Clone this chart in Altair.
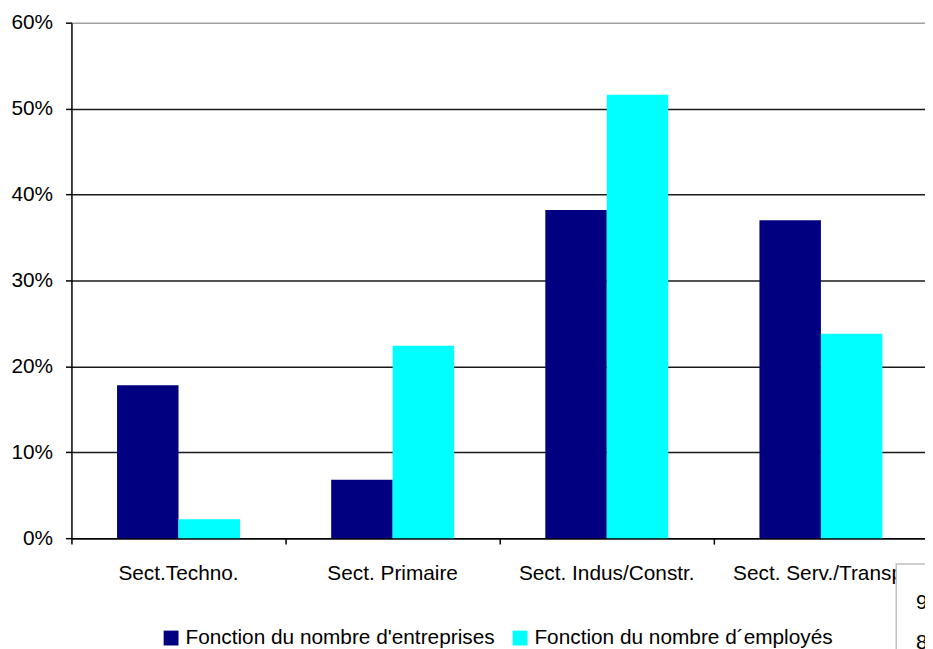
import altair as alt
import pandas as pd

categories = ["Sect.Techno.", "Sect. Primaire", "Sect. Indus/Constr.", "Sect. Serv./Transp."]
series = ["Fonction du nombre d'entreprises", "Fonction du nombre d\u00b4employ\u00e9s"]
entreprises = [0.178, 0.068, 0.382, 0.370]
employes = [0.022, 0.224, 0.516, 0.238]
colors = ["#000080", "#00FFFF"]
y_ticks = [0, 0.1, 0.2, 0.3, 0.4, 0.5, 0.6]
box_labels = ["9", "8"]

rows = []
for c, a, b in zip(categories, entreprises, employes):
    rows.append({"cat": c, "serie": series[0], "val": a})
    rows.append({"cat": c, "serie": series[1], "val": b})
df = pd.DataFrame(rows)

FONT = "Liberation Sans"

bars = alt.Chart(df).mark_bar().encode(
    x=alt.X(
        "cat:N", sort=categories, title=None,
        scale=alt.Scale(range=[0, 864], paddingInner=0, paddingOuter=0),
        axis=alt.Axis(
            bandPosition=0, labelAngle=0, tickSize=6,
            labelPadding=19, domainColor="black", tickColor="black",
            domainWidth=1.5, tickWidth=1.5, labelFontSize=21, labelFont=FONT,
            labelColor="black", grid=False, labelOverlap=False, labelLimit=400,
        ),
    ),
    xOffset=alt.XOffset(
        "serie:N", sort=series,
        scale=alt.Scale(paddingOuter=0.742, paddingInner=0),
    ),
    y=alt.Y(
        "val:Q", title=None,
        scale=alt.Scale(domain=[0, 0.6]),
        axis=alt.Axis(
            format=".0%", values=y_ticks, grid=True,
            gridColor={"condition": {"test": "datum.value >= 0.59", "value": "#a0a0a0"},
                       "value": "#1a1a1a"},
            gridWidth=1.5, tickSize=6, labelPadding=13, domainColor="black",
            tickColor="black", domainWidth=1.5, tickWidth=1.5,
            labelFontSize=21, labelFont=FONT, labelColor="black",
        ),
    ),
    color=alt.Color(
        "serie:N", sort=series,
        scale=alt.Scale(domain=series, range=colors),
        legend=alt.Legend(
            orient="none", legendX=90, legendY=610, direction="horizontal",
            title=None, symbolType="square", symbolSize=225, symbolStrokeWidth=0,
            labelFontSize=21, labelFont=FONT, labelColor="black",
            labelOffset=4, columnPadding=14, padding=0, labelLimit=500,
        ),
    ),
)

box_df = pd.DataFrame({"label": box_labels})

box = alt.Chart(box_df.head(1)).mark_rect(
    fill="white", stroke="#c0c0c0", strokeWidth=1.5
).encode(
    x=alt.value(832), x2=alt.value(900), y=alt.value(546), y2=alt.value(700)
)

txt9 = alt.Chart(box_df.head(1)).mark_text(
    align="left", baseline="alphabetic", font=FONT, fontSize=21, color="black"
).encode(x=alt.value(852), y=alt.value(591), text="label:N")

txt8 = alt.Chart(box_df.tail(1)).mark_text(
    align="left", baseline="alphabetic", font=FONT, fontSize=21, color="black"
).encode(x=alt.value(852), y=alt.value(632), text="label:N")

chart = alt.layer(bars, box, txt9, txt8).properties(
    width=861, height=520,
    autosize=alt.AutoSizeParams(type="none"),
    padding={"left": 64, "top": 12, "right": 0, "bottom": 109},
    background="white",
).configure_view(stroke=None)

chart.save("out.html", embed_options={"renderer": "svg", "actions": False})
